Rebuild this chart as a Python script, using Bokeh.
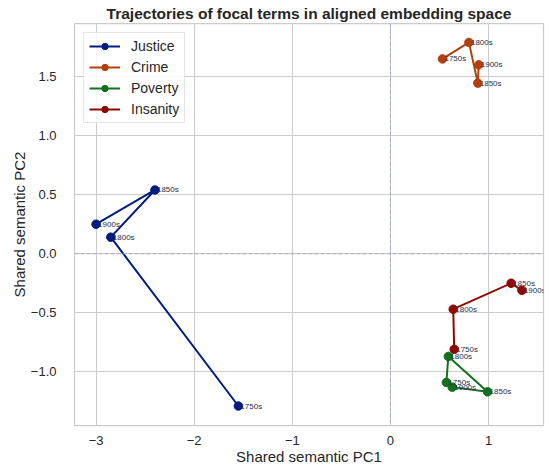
from bokeh.plotting import figure
from bokeh.models import Span, CustomJSTickFormatter, FixedTicker, Range1d, ColumnDataSource
from bokeh.core.properties import value
from bokeh.embed import file_html
from bokeh.resources import INLINE

decades = ["1750s", "1800s", "1850s", "1900s"]
terms = ["Justice", "Crime", "Poverty", "Insanity"]
colors = ["#001c7f", "#b1400d", "#12711c", "#8c0800"]

justice_x = [-1.55, -2.85, -2.40, -3.00]
justice_y = [-1.29, 0.14, 0.54, 0.25]
crime_x = [0.53, 0.80, 0.89, 0.90]
crime_y = [1.65, 1.79, 1.445, 1.60]
poverty_x = [0.57, 0.59, 0.99, 0.63]
poverty_y = [-1.09, -0.87, -1.17, -1.13]
insanity_x = [0.65, 0.64, 1.23, 1.34]
insanity_y = [-0.81, -0.47, -0.25, -0.31]

xs = [justice_x, crime_x, poverty_x, insanity_x]
ys = [justice_y, crime_y, poverty_y, insanity_y]

x_ticks = [-3, -2, -1, 0, 1]
y_ticks = [-1.0, -0.5, 0.0, 0.5, 1.0, 1.5]

FONT = "Liberation Sans"
TXT = "#262626"

p = figure(width=550, height=467, output_backend="svg", toolbar_location=None,
           x_range=Range1d(-3.22, 1.56), y_range=Range1d(-1.455, 1.95),
           min_border_left=74, min_border_right=7, min_border_top=23, min_border_bottom=42,
           title="Trajectories of focal terms in aligned embedding space")

p.title.text_font = FONT
p.title.text_font_size = "15.5px"
p.title.text_font_style = "bold"
p.title.text_color = TXT
p.title.align = "center"
p.title.standoff = 3

p.outline_line_color = "#cccccc"
p.outline_line_width = 1.25
p.background_fill_color = "white"
p.border_fill_color = "white"

for g in p.grid:
    g.grid_line_color = "#cccccc"
    g.grid_line_width = 1
p.xgrid.ticker = FixedTicker(ticks=x_ticks)
p.ygrid.ticker = FixedTicker(ticks=y_ticks)

p.xaxis.ticker = FixedTicker(ticks=x_ticks)
p.yaxis.ticker = FixedTicker(ticks=y_ticks)
p.xaxis.formatter = CustomJSTickFormatter(code="return (tick < 0 ? '\\u2212' : '') + Math.abs(tick).toFixed(0);")
p.yaxis.formatter = CustomJSTickFormatter(code="return (tick < 0 ? '\\u2212' : '') + Math.abs(tick).toFixed(1);")
p.xaxis.axis_label = "Shared semantic PC1"
p.yaxis.axis_label = "Shared semantic PC2"
for ax in (p.xaxis[0], p.yaxis[0]):
    ax.axis_line_color = None
    ax.major_tick_line_color = None
    ax.minor_tick_line_color = None
    ax.major_tick_out = 0
    ax.major_tick_in = 0
    ax.minor_tick_out = 0
    ax.minor_tick_in = 0
    ax.major_label_text_font = FONT
    ax.major_label_text_font_size = "13px"
    ax.major_label_text_color = TXT
    ax.axis_label_text_font = FONT
    ax.axis_label_text_font_size = "15px"
    ax.axis_label_text_font_style = "normal"
    ax.axis_label_text_color = TXT
    ax.axis_label_standoff = 0
p.xaxis.major_label_standoff = 10
p.yaxis.major_label_standoff = 18

p.add_layout(Span(location=0, dimension="width", line_color="#a4abba", line_width=1, line_dash="4 2"))
p.add_layout(Span(location=0, dimension="height", line_color="#a4abba", line_width=1, line_dash="4 2"))

for term, c, x, y in zip(terms, colors, xs, ys):
    src = ColumnDataSource(dict(x=x, y=y, t=decades))
    p.line("x", "y", source=src, line_color=c, line_width=2, legend_label=term)
    p.scatter("x", "y", source=src, size=8.5, fill_color=c, line_color=c, legend_label=term)

for term, c, x, y in zip(terms, colors, xs, ys):
    src = ColumnDataSource(dict(x=x, y=y, t=decades))
    p.text("x", "y", text="t", source=src, x_offset=2, y_offset=0,
           text_font=value(FONT), text_font_size="8px", text_color="#262e4a",
           text_baseline="alphabetic", text_align="left")

lg = p.legend[0]
lg.location = "top_left"
lg.margin = 9
lg.padding = 5
lg.spacing = 5
lg.glyph_height = 16
lg.glyph_width = 31
lg.label_standoff = 11
lg.label_text_font = FONT
lg.label_text_font_size = "14px"
lg.label_text_color = TXT
lg.border_line_color = "#cccccc"
lg.border_line_width = 1
lg.background_fill_alpha = 0.8

open("out.html", "w").write(file_html(p, INLINE))
